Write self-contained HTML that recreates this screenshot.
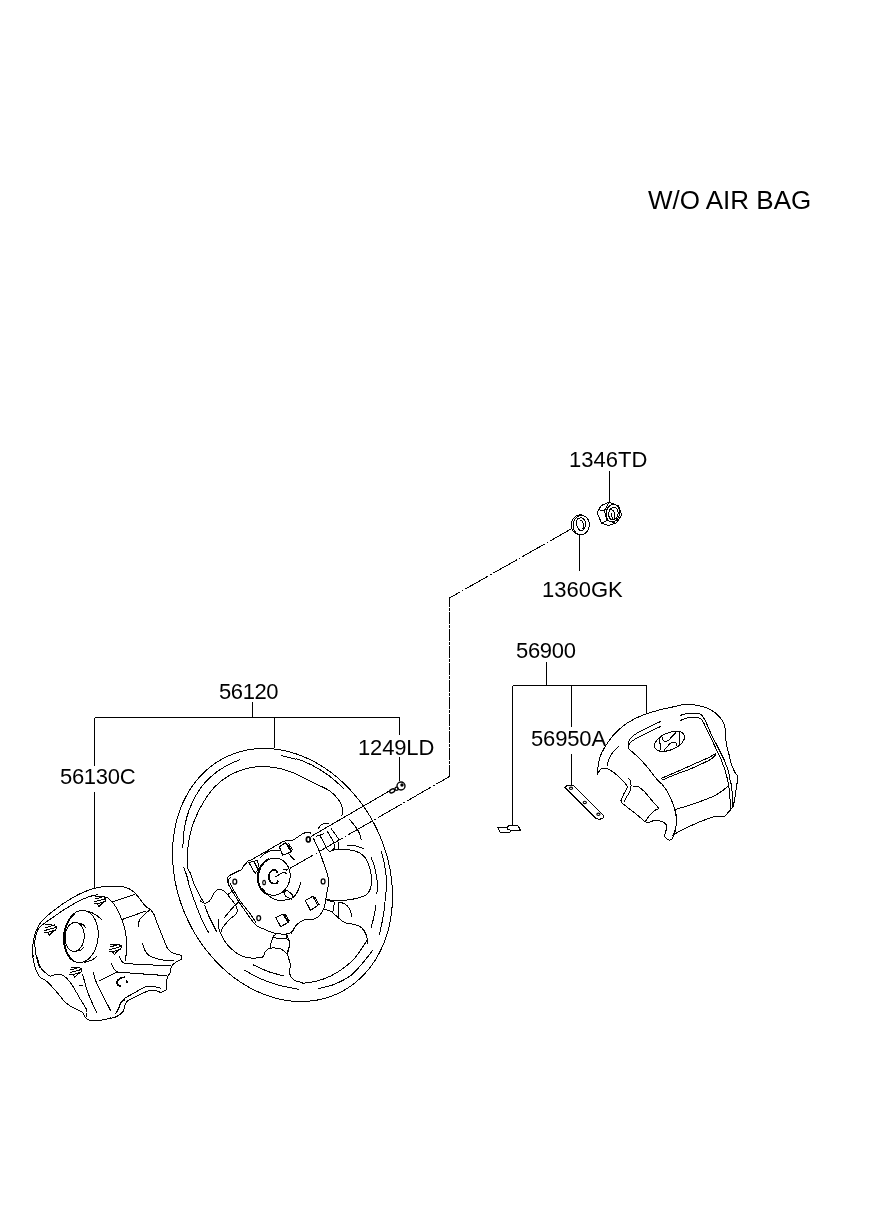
<!DOCTYPE html>
<html><head><meta charset="utf-8"><title>Steering wheel</title>
<style>
html,body{margin:0;padding:0;background:#fff;}
body{width:886px;height:1211px;position:relative;overflow:hidden;font-family:"Liberation Sans",sans-serif;color:#000;}
svg{position:absolute;left:0;top:0;}
.t{position:absolute;white-space:nowrap;line-height:1;color:#000;will-change:transform;}
</style></head><body>
<svg width="886" height="1211" viewBox="0 0 886 1211" shape-rendering="crispEdges" fill="none" stroke="#000" stroke-width="1">
<path d="M94.5 717.5 L399.5 717.5"/>
<path d="M252.5 702.0 L252.5 717.5"/>
<path d="M274.5 717.5 L274.5 748.0"/>
<path d="M94.5 717.5 L94.5 766.0"/>
<path d="M94.5 792.0 L94.5 888.5"/>
<path d="M399.5 717.5 L399.5 734.5"/>
<path d="M399.5 757.0 L399.5 781.0"/>
<path d="M512.5 685.5 L646.5 685.5"/>
<path d="M546.5 662.0 L546.5 685.5"/>
<path d="M512.5 685.5 L512.5 825.0"/>
<path d="M571.5 685.5 L571.5 727.0"/>
<path d="M571.5 754.0 L571.5 785.0"/>
<path d="M646.5 685.5 L646.5 713.5"/>
<path d="M609.5 471.0 L609.5 502.0"/>
<path d="M579.5 534.0 L579.5 571.0"/>
<path d="M227.0 756.6 C228.4 756.0 232.6 754.1 235.5 753.1 C238.4 752.1 241.4 751.3 244.4 750.6 C247.4 749.9 250.4 749.4 253.5 749.1 C256.6 748.7 259.7 748.5 262.9 748.5 C266.0 748.4 269.2 748.6 272.4 748.8 C275.5 749.1 278.7 749.6 281.9 750.2 C285.1 750.8 288.4 751.5 291.5 752.4 C294.7 753.4 297.9 754.4 301.1 755.7 C304.2 756.9 307.3 758.3 310.4 759.8 C313.5 761.3 316.6 763.0 319.6 764.8 C322.6 766.6 325.6 768.5 328.5 770.6 C331.4 772.7 334.2 774.9 337.0 777.2 C339.8 779.6 342.5 782.0 345.1 784.6 C347.8 787.2 350.3 789.9 352.8 792.7 C355.2 795.5 357.6 798.4 359.9 801.4 C362.2 804.4 364.3 807.4 366.4 810.6 C368.5 813.8 370.5 817.0 372.3 820.3 C374.1 823.7 375.9 827.1 377.5 830.5 C379.1 833.9 380.6 837.5 382.0 841.0 C383.3 844.5 384.6 848.1 385.7 851.7 C386.8 855.4 387.8 859.0 388.6 862.7 C389.5 866.3 390.2 870.0 390.7 873.7 C391.3 877.4 391.7 881.1 392.0 884.7 C392.3 888.4 392.5 892.1 392.5 895.7 C392.5 899.3 392.4 902.9 392.1 906.5 C391.9 910.0 391.5 913.6 390.9 917.0 C390.4 920.5 389.7 923.9 388.9 927.3 C388.1 930.6 387.1 933.9 386.1 937.1 C385.0 940.3 383.8 943.5 382.4 946.5 C381.1 949.5 379.6 952.5 378.0 955.3 C376.5 958.2 374.8 960.9 372.9 963.5 C371.1 966.2 369.2 968.7 367.1 971.1 C365.1 973.5 362.9 975.8 360.7 977.9 C358.4 980.0 356.1 982.1 353.6 983.9 C351.2 985.8 348.7 987.5 346.1 989.1 C343.4 990.7 340.7 992.2 338.0 993.4 C335.2 994.7 332.4 995.9 329.5 996.9 C326.6 997.9 323.6 998.7 320.6 999.4 C317.6 1000.1 314.6 1000.6 311.5 1000.9 C308.4 1001.3 305.3 1001.5 302.1 1001.5 C299.0 1001.6 295.8 1001.4 292.6 1001.2 C289.5 1000.9 286.3 1000.4 283.1 999.8 C279.9 999.2 276.6 998.5 273.5 997.6 C270.3 996.6 267.1 995.6 263.9 994.3 C260.8 993.1 257.7 991.7 254.6 990.2 C251.5 988.7 248.4 987.0 245.4 985.2 C242.4 983.4 239.4 981.5 236.5 979.4 C233.6 977.3 230.8 975.1 228.0 972.8 C225.2 970.4 222.5 968.0 219.9 965.4 C217.2 962.8 214.7 960.1 212.2 957.3 C209.8 954.5 207.4 951.6 205.1 948.6 C202.8 945.6 200.7 942.6 198.6 939.4 C196.5 936.2 194.5 933.0 192.7 929.7 C190.9 926.3 189.1 922.9 187.5 919.5 C185.9 916.1 184.4 912.5 183.0 909.0 C181.7 905.5 180.4 901.9 179.3 898.3 C178.2 894.6 177.2 891.0 176.4 887.3 C175.5 883.7 174.8 880.0 174.3 876.3 C173.7 872.6 173.3 868.9 173.0 865.3 C172.7 861.6 172.5 857.9 172.5 854.3 C172.5 850.7 172.6 847.1 172.9 843.5 C173.1 840.0 173.5 836.4 174.1 833.0 C174.6 829.5 175.3 826.1 176.1 822.7 C176.9 819.4 177.9 816.1 178.9 812.9 C180.0 809.7 181.2 806.5 182.6 803.5 C183.9 800.5 185.4 797.5 187.0 794.7 C188.5 791.8 190.2 789.1 192.1 786.5 C193.9 783.8 195.8 781.3 197.9 778.9 C199.9 776.5 202.1 774.2 204.3 772.1 C206.6 770.0 208.9 767.9 211.4 766.1 C213.8 764.2 216.3 762.5 218.9 760.9 C221.6 759.3 225.7 757.3 227.0 756.6"/>
<path d="M240.4 759.5 C238.3 760.4 232.1 762.7 227.7 765.1 C223.3 767.5 218.4 770.4 214.2 773.9 C209.9 777.3 205.8 781.2 202.3 785.7 C198.8 790.2 195.6 795.9 193.0 800.9 C190.5 806.0 188.6 810.8 187.1 816.2 C185.5 821.5 184.4 827.7 183.7 833.1 C183.0 838.5 183.0 845.8 182.9 848.3"/>
<path d="M183.7 867.0 C184.3 868.6 186.1 873.4 187.1 876.8 C188.1 880.1 188.2 882.4 189.6 886.9 C191.0 891.4 193.4 898.2 195.6 903.9 C197.7 909.5 200.1 915.8 202.3 920.8 C204.6 925.7 208.0 931.4 209.1 933.5"/>
<path d="M281.0 755.6 C283.4 756.1 292.7 758.4 295.4 759.0 C298.1 759.5 294.4 757.9 297.2 759.0 C300.1 760.0 307.4 762.8 312.5 765.4 C317.6 768.0 323.5 771.7 327.7 774.7 C331.9 777.7 335.2 780.8 337.9 783.2 C340.6 785.6 342.8 788.1 343.8 789.1"/>
<path d="M341.5 815.7 C341.7 815.2 342.6 814.0 342.7 812.6 C342.7 811.1 342.5 808.8 342.0 806.9 C341.5 805.0 340.7 803.2 339.5 801.3 C338.3 799.4 336.9 797.5 335.0 795.6 C333.1 793.8 332.3 792.4 328.2 790.0 C324.2 787.6 316.5 784.3 310.8 781.5 C305.1 778.6 299.5 775.3 293.9 773.0 C288.2 770.8 282.9 769.0 276.9 767.9 C271.0 766.9 263.9 766.5 258.2 766.7 C252.5 767.0 248.0 768.0 243.0 769.6 C237.9 771.2 232.5 773.4 227.7 776.4 C222.9 779.4 218.3 783.0 214.2 787.4 C210.1 791.8 206.4 797.3 203.2 802.6 C199.9 808.0 197.0 813.9 194.7 819.6 C192.4 825.2 190.8 830.9 189.6 836.5 C188.4 842.1 187.7 848.1 187.4 853.4 C187.1 858.8 187.4 865.3 187.9 868.7 C188.4 872.0 189.5 870.9 190.5 873.4 C191.5 875.9 192.3 879.9 193.9 883.5 C195.4 887.2 198.0 892.1 199.8 895.4 C201.5 898.7 203.6 902.2 204.4 903.5"/>
<path d="M389.2 791.1 L311.3 836.3"/>
<path d="M313.5 838.5 C314.5 840.6 317.5 846.8 319.2 850.9 C320.9 855.1 322.3 859.2 323.7 863.4 C325.1 867.5 326.8 872.4 327.7 875.8 C328.5 879.2 328.8 881.4 328.8 883.7 C328.7 886.0 327.8 887.5 327.4 889.5 C327.0 891.4 326.9 892.4 326.4 895.4 C325.9 898.4 325.4 904.0 324.3 907.2 C323.3 910.5 321.8 912.9 320.1 914.9 C318.4 916.8 316.9 918.2 314.2 919.1 C311.5 919.9 307.0 919.0 304.0 919.9 C301.1 920.9 298.5 922.8 296.4 925.0 C294.3 927.3 292.2 932.1 291.3 933.5"/>
<path d="M316.4 836.3 L324.3 833.5"/>
<path d="M319.8 835.1 L326.5 847.6"/>
<path d="M327.1 831.2 C327.7 832.2 329.9 835.4 331.0 837.4 C332.2 839.4 333.4 842.1 333.9 843.0"/>
<path d="M331.0 828.4 C331.8 829.4 334.2 832.7 335.6 834.6 C336.9 836.5 338.4 838.8 338.9 839.7"/>
<path d="M326.0 848.1 C326.6 848.7 328.6 851.4 329.9 851.5 C331.2 851.6 333.0 849.9 333.9 848.7 C334.7 847.5 334.8 844.9 335.0 844.2"/>
<path d="M338.9 841.9 L338.9 848.7"/>
<path d="M318.1 828.9 C318.5 828.3 319.8 825.9 320.9 825.0 C322.0 824.0 323.5 823.6 324.8 823.3 C326.1 823.0 328.1 823.3 328.8 823.3"/>
<path d="M303.4 833.5 C304.0 833.3 305.5 832.3 306.8 832.3 C308.1 832.3 310.5 833.3 311.3 833.5"/>
<path d="M349.1 819.1 C349.9 820.1 352.6 822.9 354.2 825.0 C355.8 827.1 357.5 829.2 358.7 831.8 C359.9 834.3 361.0 838.8 361.5 840.2"/>
<path d="M346.8 845.3 C348.3 845.4 352.5 845.3 355.3 845.9 C358.1 846.4 362.4 848.2 363.8 848.7"/>
<path d="M331.6 850.4 C332.7 850.2 335.7 849.4 338.4 849.3 C341.0 849.1 344.4 849.2 347.4 849.6 C350.4 850.0 353.8 850.5 356.4 851.5 C359.1 852.5 361.3 853.7 363.2 855.5 C365.1 857.2 366.5 859.6 367.7 862.2 C368.9 864.9 369.9 868.3 370.5 871.3 C371.2 874.3 371.7 877.4 371.7 880.3 C371.6 883.2 371.2 886.2 370.4 888.6 C369.5 891.0 368.7 893.0 366.7 894.5 C364.6 896.1 361.6 897.0 358.2 897.9 C354.8 898.9 350.3 899.7 346.3 900.1 C342.4 900.6 337.7 900.6 334.5 900.5 C331.2 900.4 328.1 899.8 326.9 899.6"/>
<path d="M381.3 851.5 C381.7 853.3 383.3 858.6 384.1 862.2 C384.8 865.9 385.3 869.8 385.8 873.5 C386.2 877.3 386.7 881.2 386.7 884.8 C386.7 888.5 386.1 890.5 385.6 895.4 C385.1 900.3 384.6 907.4 383.6 914.0 C382.5 920.6 380.1 931.7 379.3 935.2"/>
<path d="M371.1 857.5 C371.7 859.0 373.6 863.3 374.5 866.7 C375.4 870.2 376.2 874.2 376.7 878.0 C377.3 881.9 377.8 887.4 377.7 890.0 C377.5 892.6 376.2 893.1 376.0 893.7"/>
<path d="M376.0 905.6 C375.6 907.5 374.6 913.6 373.8 917.4 C372.9 921.2 371.4 926.6 370.9 928.4"/>
<path d="M227.4 882.9 C227.4 882.2 226.8 880.2 227.2 878.9 C227.6 877.7 227.2 877.1 229.7 875.5 C232.2 873.9 240.0 870.4 242.1 869.3"/>
<path d="M242.1 869.3 L243.2 866.5 L248.3 860.9 L251.7 859.7 L283.8 841.1 L292.9 840.2 L302.5 833.8"/>
<path d="M302.5 833.8 C303.2 833.5 305.5 832.4 307.0 832.3 C308.5 832.2 310.7 833.1 311.5 833.2"/>
<path d="M228.8 882.9 C228.7 882.4 228.2 880.7 228.5 879.7 C228.8 878.8 230.2 877.6 230.6 877.2"/>
<path d="M227.7 882.6 C228.1 883.5 228.6 885.0 230.5 888.2 C232.4 891.4 235.0 895.9 238.9 901.8 C242.9 907.6 250.1 918.7 254.2 923.2 C258.2 927.7 260.0 927.2 263.2 928.8 C266.4 930.4 270.7 932.0 273.4 932.8 C276.0 933.6 276.7 933.7 279.0 933.9 C281.3 934.1 284.7 934.4 286.9 933.9 C289.2 933.5 291.0 932.5 292.6 931.1 C294.1 929.7 294.7 927.0 295.9 925.5 C297.2 924.0 299.3 922.6 300.0 922.1"/>
<path d="M229.9 882.6 C230.6 883.9 232.1 887.3 233.9 890.5 C235.6 893.7 238.0 898.0 240.6 901.8 C243.3 905.5 247.1 909.6 249.7 913.0 C252.2 916.5 254.8 921.0 255.9 922.6"/>
<path d="M277.5 858.3 C277.9 858.4 279.1 858.7 279.9 859.0 C280.7 859.3 281.4 859.6 282.1 860.1 C282.9 860.5 283.6 861.0 284.2 861.6 C284.8 862.1 285.5 862.8 286.0 863.4 C286.6 864.1 287.1 864.9 287.5 865.6 C288.0 866.4 288.4 867.3 288.7 868.1 C289.1 869.0 289.4 869.9 289.6 870.8 C289.8 871.7 290.0 872.7 290.1 873.6 C290.1 874.6 290.2 875.5 290.1 876.5 C290.1 877.5 290.0 878.5 289.8 879.4 C289.6 880.4 289.4 881.3 289.1 882.2 C288.8 883.2 288.5 884.1 288.1 884.9 C287.6 885.8 287.2 886.7 286.7 887.4 C286.1 888.2 285.6 889.0 284.9 889.7 C284.3 890.4 283.7 891.0 283.0 891.6 C282.3 892.2 281.5 892.7 280.8 893.1 C280.0 893.6 279.2 894.0 278.4 894.3 C277.6 894.6 276.8 894.8 276.0 895.0 C275.2 895.1 274.3 895.2 273.5 895.2 C272.7 895.2 271.8 895.2 271.0 895.0 C270.2 894.9 269.4 894.6 268.6 894.4 C267.9 894.1 267.1 893.7 266.4 893.3 C265.7 892.8 265.0 892.3 264.3 891.8 C263.7 891.2 263.0 890.6 262.5 889.9 C261.9 889.2 261.4 888.5 261.0 887.7 C260.5 886.9 260.1 886.1 259.8 885.2 C259.4 884.4 259.1 883.5 258.9 882.6 C258.7 881.6 258.5 880.7 258.5 879.7 C258.4 878.8 258.3 877.8 258.4 876.8 C258.4 875.9 258.5 874.9 258.7 873.9 C258.9 873.0 259.1 872.0 259.4 871.1 C259.7 870.2 260.0 869.3 260.5 868.4 C260.9 867.5 261.3 866.7 261.9 865.9 C262.4 865.1 263.0 864.4 263.6 863.7 C264.2 863.0 264.8 862.3 265.5 861.8 C266.2 861.2 267.0 860.7 267.7 860.2 C268.5 859.8 269.3 859.4 270.1 859.1 C270.9 858.8 271.7 858.5 272.5 858.4 C273.3 858.2 274.2 858.1 275.0 858.1 C275.8 858.1 277.1 858.3 277.5 858.3"/>
<path d="M267.8 894.8 C267.5 894.6 266.6 894.2 266.0 893.9 C265.4 893.6 264.8 893.2 264.3 892.8 C263.7 892.3 263.2 891.9 262.7 891.4 C262.2 890.9 261.7 890.4 261.3 889.8 C260.8 889.2 260.4 888.6 260.0 888.0 C259.7 887.4 259.3 886.7 259.0 886.0 C258.7 885.4 258.5 884.7 258.2 883.9 C258.0 883.2 257.8 882.5 257.7 881.7 C257.5 881.0 257.4 880.2 257.4 879.4 C257.3 878.7 257.3 877.9 257.3 877.1 C257.3 876.3 257.4 875.6 257.5 874.8 C257.6 874.0 257.7 873.2 257.9 872.5 C258.1 871.7 258.3 871.0 258.6 870.2 C258.8 869.5 259.1 868.8 259.4 868.1 C259.8 867.4 260.2 866.7 260.6 866.1 C261.0 865.4 261.4 864.8 261.9 864.2 C262.3 863.6 262.8 863.1 263.4 862.5 C263.9 862.0 264.4 861.5 265.0 861.1 C265.6 860.6 266.2 860.2 266.8 859.8 C267.4 859.5 268.4 859.0 268.7 858.9"/>
<path d="M259.6 858.6 C260.4 857.8 262.7 854.8 264.7 853.5 C266.6 852.2 268.9 851.3 271.4 850.7 C274.0 850.1 278.5 850.2 279.9 850.1"/>
<path d="M300.8 881.7 C300.4 883.1 299.8 887.0 298.5 889.7 C297.2 892.3 295.5 895.8 292.9 897.6 C290.2 899.3 285.5 900.0 282.7 900.4 C279.9 900.7 278.4 900.7 275.9 899.8 C273.5 899.0 270.3 897.2 268.0 895.3 C265.8 893.4 263.3 889.7 262.4 888.5"/>
<path d="M279.3 846.8 L285.5 842.8 L291.2 851.8 L282.7 855.2Z"/>
<path d="M287.2 843.9 L291.7 850.7"/>
<path d="M288.4 843.1 L292.7 849.9"/>
<path d="M288.4 853.5 L294.6 860.3"/>
<path d="M248.9 862.6 L257.3 860.3 L259.2 868.2 L255.1 873.3Z"/>
<path d="M253.9 861.4 L257.9 869.3"/>
<path d="M283.8 891.9 L287.2 890.2 L292.9 895.3 L291.7 899.2 L285.5 896.4Z"/>
<path d="M282.7 869.3 L287.2 869.6"/>
<path d="M282.7 872.7 L287.2 873.2"/>
<path d="M275.6 917.6 L283.0 914.0 L288.0 922.6 L280.7 926.6Z"/>
<path d="M284.1 914.7 L288.6 921.9"/>
<path d="M285.2 914.2 L289.4 921.3"/>
<path d="M305.4 900.5 L312.8 896.2 L317.9 905.6 L310.4 910.3Z"/>
<path d="M314.5 896.7 L319.3 905.0"/>
<path d="M200.0 900.6 C200.6 901.0 202.1 902.6 203.4 902.9 C204.7 903.2 206.6 903.1 207.9 902.3 C209.2 901.6 210.3 900.0 211.3 898.4 C212.3 896.8 213.1 894.1 214.1 892.7 C215.1 891.3 216.3 890.4 217.5 889.9 C218.7 889.4 220.0 889.4 221.4 889.9 C222.9 890.4 224.5 891.3 226.0 892.7 C227.5 894.1 229.0 896.5 230.5 898.4 C232.0 900.3 234.0 902.5 235.0 904.0 C236.0 905.5 236.4 905.9 236.7 907.4 C237.0 908.9 237.9 911.0 236.7 913.0 C235.5 915.1 231.7 917.4 229.3 919.8 C227.0 922.3 224.0 925.7 222.6 927.7 C221.2 929.8 221.2 931.5 220.9 932.2"/>
<path d="M228.2 894.4 L232.7 890.5"/>
<path d="M238.9 901.8 L233.9 906.3 L224.3 917.6"/>
<path d="M218.1 919.3 C218.2 920.7 218.2 925.3 218.6 927.7 C219.1 930.2 220.5 932.9 220.9 933.9"/>
<path d="M204.5 905.1 C205.3 907.0 207.0 911.9 209.0 916.4 C211.1 920.9 215.6 929.6 216.9 932.2"/>
<path d="M220.9 933.9 C221.5 935.2 223.2 938.9 224.8 941.3 C226.4 943.6 228.2 945.9 230.5 948.0 C232.7 950.2 235.6 952.6 238.4 954.2 C241.2 955.8 244.4 957.0 247.4 957.6 C250.4 958.3 253.9 958.1 256.4 958.0 C259.0 957.9 261.1 958.2 262.6 957.1 C264.1 956.0 264.4 952.8 265.5 951.4 C266.5 950.0 267.3 949.2 268.8 948.6 C270.4 948.0 272.4 947.9 274.5 948.0 C276.6 948.1 279.2 948.2 281.3 949.2 C283.3 950.1 285.6 951.9 286.9 953.7 C288.2 955.5 288.8 958.9 289.2 960.0"/>
<path d="M275.6 934.5 C275.2 935.0 273.7 935.2 272.8 937.3 C271.9 939.5 270.4 945.8 270.0 947.5"/>
<path d="M272.8 937.9 L286.3 938.4"/>
<path d="M286.9 934.5 C286.8 935.2 285.9 937.3 286.3 938.4 C286.8 939.6 289.3 939.9 289.7 941.3 C290.2 942.7 289.6 944.8 289.2 946.9 C288.7 949.0 287.3 952.6 286.9 953.7"/>
<path d="M287.0 935.2 C287.4 936.4 289.4 939.6 289.5 942.8 C289.6 946.0 287.7 951.0 287.8 954.6 C288.0 958.3 290.1 961.7 290.4 964.8 C290.6 967.9 288.9 970.7 289.5 973.3 C290.1 975.8 291.6 978.5 293.7 980.0 C295.9 981.6 300.5 982.1 302.2 982.6 C303.9 983.1 301.5 983.4 304.0 983.1 C306.6 982.8 313.0 982.1 317.6 980.9 C322.1 979.7 326.6 978.1 331.1 975.8 C335.6 973.5 340.7 970.3 344.6 967.3 C348.6 964.4 351.7 961.6 354.8 958.0 C357.9 954.5 361.2 949.3 363.3 946.2 C365.4 943.1 366.8 940.5 367.5 939.4"/>
<path d="M367.5 943.6 C367.4 942.4 367.6 938.7 366.7 936.0 C365.7 933.3 363.8 929.5 361.6 927.6 C359.3 925.6 355.9 925.0 353.1 924.2 C350.3 923.3 347.2 923.6 344.6 922.5 C342.1 921.4 340.1 919.2 337.9 917.4 C335.6 915.6 333.4 912.8 331.1 911.5 C328.8 910.1 325.5 909.6 324.3 909.3"/>
<path d="M325.2 899.6 L334.5 902.2"/>
<path d="M334.5 902.2 L332.8 912.3"/>
<path d="M338.7 902.2 L338.2 916.6"/>
<path d="M338.7 902.2 C339.7 902.4 342.8 902.7 344.6 903.9 C346.5 905.0 348.5 906.8 349.7 908.9 C350.9 911.1 351.6 915.3 351.9 916.6"/>
<path d="M253.1 964.8 C255.6 965.9 263.3 969.7 268.3 971.6 C273.4 973.4 281.0 975.1 283.6 975.8"/>
<path d="M243.8 969.9 C246.8 971.4 255.8 976.7 261.6 979.2 C267.4 981.7 272.3 983.4 278.5 985.1 C284.7 986.8 295.4 988.6 298.8 989.3"/>
<path d="M318.4 988.5 C321.1 987.8 329.0 986.5 334.5 984.3 C340.0 982.0 346.6 978.6 351.4 975.0 C356.2 971.3 359.7 966.4 363.3 962.3 C366.8 958.2 371.0 952.4 372.6 950.4"/>
<path d="M582.5 515.5 C582.6 515.5 583.0 515.6 583.2 515.6 C583.4 515.7 583.7 515.8 583.9 515.8 C584.1 515.9 584.3 516.0 584.5 516.1 C584.8 516.2 585.0 516.3 585.2 516.5 C585.4 516.6 585.6 516.7 585.8 516.9 C586.0 517.0 586.2 517.2 586.4 517.3 C586.5 517.5 586.7 517.7 586.9 517.9 C587.0 518.1 587.2 518.3 587.4 518.5 C587.5 518.7 587.7 518.9 587.8 519.1 C587.9 519.3 588.1 519.5 588.2 519.8 C588.3 520.0 588.4 520.3 588.5 520.5 C588.6 520.7 588.7 521.0 588.8 521.3 C588.9 521.5 589.0 521.8 589.0 522.0 C589.1 522.3 589.1 522.6 589.2 522.8 C589.2 523.1 589.3 523.4 589.3 523.7 C589.3 523.9 589.3 524.2 589.3 524.5 C589.3 524.8 589.3 525.1 589.3 525.3 C589.3 525.6 589.2 525.9 589.2 526.2 C589.2 526.5 589.1 526.7 589.1 527.0 C589.0 527.3 588.9 527.6 588.9 527.8 C588.8 528.1 588.7 528.4 588.6 528.6 C588.5 528.9 588.4 529.1 588.3 529.4 C588.1 529.6 588.0 529.9 587.9 530.1 C587.8 530.4 587.6 530.6 587.5 530.8 C587.3 531.0 587.2 531.3 587.0 531.5 C586.8 531.7 586.6 531.9 586.5 532.1 C586.3 532.3 586.1 532.4 585.9 532.6 C585.7 532.8 585.5 532.9 585.3 533.1 C585.1 533.3 584.9 533.4 584.7 533.5 C584.5 533.7 584.2 533.8 584.0 533.9 C583.8 534.0 583.6 534.1 583.3 534.2 C583.1 534.3 582.9 534.4 582.7 534.4 C582.4 534.5 582.2 534.5 581.9 534.6 C581.7 534.6 581.5 534.6 581.2 534.7 C581.0 534.7 580.8 534.7 580.5 534.7 C580.3 534.7 580.1 534.6 579.8 534.6 C579.6 534.6 579.4 534.5 579.1 534.5 C578.9 534.4 578.7 534.3 578.4 534.3 C578.2 534.2 578.0 534.1 577.8 534.0 C577.6 533.9 577.4 533.8 577.1 533.6 C576.9 533.5 576.7 533.4 576.5 533.2 C576.3 533.1 576.2 532.9 576.0 532.8 C575.8 532.6 575.6 532.4 575.4 532.2 C575.3 532.0 575.1 531.8 575.0 531.6 C574.8 531.4 574.7 531.2 574.5 531.0 C574.4 530.8 574.3 530.6 574.1 530.3 C574.0 530.1 573.9 529.9 573.8 529.6 C573.7 529.4 573.6 529.1 573.5 528.9 C573.4 528.6 573.4 528.3 573.3 528.1 C573.2 527.8 573.2 527.5 573.1 527.3 C573.1 527.0 573.1 526.7 573.0 526.4 C573.0 526.2 573.0 525.9 573.0 525.6 C573.0 525.3 573.0 525.0 573.0 524.8 C573.0 524.5 573.1 524.2 573.1 523.9 C573.2 523.6 573.2 523.4 573.3 523.1 C573.3 522.8 573.4 522.5 573.5 522.3 C573.6 522.0 573.6 521.7 573.7 521.5 C573.8 521.2 573.9 521.0 574.1 520.7 C574.2 520.5 574.3 520.2 574.4 520.0 C574.6 519.8 574.7 519.5 574.9 519.3 C575.0 519.1 575.2 518.9 575.3 518.6 C575.5 518.4 575.7 518.2 575.9 518.0 C576.0 517.9 576.2 517.7 576.4 517.5 C576.6 517.3 576.8 517.2 577.0 517.0 C577.2 516.9 577.4 516.7 577.6 516.6 C577.9 516.4 578.1 516.3 578.3 516.2 C578.5 516.1 578.8 516.0 579.0 515.9 C579.2 515.8 579.4 515.7 579.7 515.7 C579.9 515.6 580.1 515.6 580.4 515.5 C580.6 515.5 580.9 515.5 581.1 515.4 C581.3 515.4 581.6 515.4 581.8 515.4 C582.0 515.4 582.4 515.5 582.5 515.5"/>
<path d="M580.9 534.3 C580.7 534.3 580.0 534.4 579.6 534.4 C579.1 534.4 578.7 534.4 578.2 534.3 C577.8 534.2 577.4 534.1 577.0 533.9 C576.6 533.8 576.2 533.6 575.8 533.4 C575.4 533.1 575.0 532.9 574.7 532.6 C574.3 532.3 574.0 532.0 573.7 531.6 C573.4 531.3 573.1 530.9 572.9 530.5 C572.6 530.1 572.4 529.7 572.2 529.2 C572.0 528.8 571.8 528.3 571.7 527.9 C571.6 527.4 571.5 526.9 571.4 526.4 C571.3 525.9 571.3 525.4 571.3 524.9 C571.3 524.4 571.4 523.9 571.4 523.4 C571.5 522.9 571.6 522.4 571.7 522.0 C571.9 521.5 572.0 521.0 572.2 520.6 C572.4 520.1 572.7 519.7 572.9 519.2 C573.2 518.8 573.5 518.4 573.8 518.1 C574.1 517.7 574.4 517.4 574.7 517.0 C575.1 516.7 575.5 516.4 575.9 516.2 C576.2 515.9 576.6 515.7 577.1 515.5 C577.5 515.3 577.9 515.2 578.3 515.1 C578.8 515.0 579.2 514.9 579.7 514.9 C580.1 514.8 580.5 514.8 581.0 514.9 C581.4 514.9 581.8 515.0 582.3 515.1 C582.7 515.2 583.3 515.5 583.5 515.5"/>
<path d="M578.2 518.3 C577.9 518.9 576.4 520.7 576.3 522.1 C576.1 523.5 576.7 525.3 577.4 526.7 C578.0 528.2 579.2 530.1 580.3 530.6 C581.4 531.0 583.0 530.5 583.9 529.5 C584.7 528.6 585.3 526.2 585.4 524.6 C585.5 523.1 585.3 521.5 584.7 520.4 C584.2 519.3 583.3 518.4 582.2 518.0 C581.1 517.7 578.9 518.2 578.2 518.3"/>
<path d="M579.9 519.7 C580.4 520.1 582.0 520.8 582.7 521.9 C583.3 523.0 583.9 524.9 583.9 526.2 C583.9 527.4 582.9 528.7 582.7 529.2"/>
<path d="M597.2 512.8 L601.1 505.6 L609.1 502.2 L618.4 505.8 L621.6 515.1 L616.3 522.9 L608.9 525.5 L601.5 523.1Z"/>
<path d="M614.3 504.6 C614.4 504.6 614.7 504.7 614.9 504.7 C615.1 504.8 615.3 504.9 615.5 504.9 C615.7 505.0 615.8 505.1 616.0 505.2 C616.2 505.3 616.4 505.4 616.5 505.5 C616.7 505.7 616.9 505.8 617.0 505.9 C617.2 506.1 617.3 506.2 617.5 506.4 C617.6 506.5 617.8 506.7 617.9 506.8 C618.0 507.0 618.1 507.2 618.3 507.4 C618.4 507.6 618.5 507.8 618.6 508.0 C618.7 508.2 618.8 508.4 618.9 508.6 C619.0 508.8 619.1 509.0 619.2 509.2 C619.2 509.5 619.3 509.7 619.4 509.9 C619.4 510.2 619.5 510.4 619.5 510.6 C619.5 510.9 619.6 511.1 619.6 511.4 C619.6 511.6 619.6 511.9 619.7 512.1 C619.7 512.4 619.7 512.6 619.7 512.9 C619.6 513.1 619.6 513.4 619.6 513.6 C619.6 513.9 619.5 514.1 619.5 514.4 C619.4 514.6 619.4 514.9 619.3 515.1 C619.3 515.4 619.2 515.6 619.1 515.8 C619.1 516.1 619.0 516.3 618.9 516.6 C618.8 516.8 618.7 517.0 618.6 517.2 C618.5 517.5 618.3 517.7 618.2 517.9 C618.1 518.1 618.0 518.3 617.8 518.5 C617.7 518.7 617.6 518.9 617.4 519.1 C617.3 519.3 617.1 519.5 617.0 519.6 C616.8 519.8 616.6 520.0 616.5 520.1 C616.3 520.3 616.1 520.4 616.0 520.5 C615.8 520.7 615.6 520.8 615.4 520.9 C615.2 521.0 615.0 521.1 614.8 521.2 C614.7 521.3 614.5 521.4 614.3 521.5 C614.1 521.6 613.9 521.6 613.7 521.7 C613.5 521.7 613.3 521.8 613.1 521.8 C612.9 521.8 612.7 521.9 612.5 521.9 C612.3 521.9 612.1 521.9 611.9 521.9 C611.7 521.8 611.5 521.8 611.3 521.8 C611.1 521.8 610.9 521.7 610.7 521.7 C610.5 521.6 610.4 521.5 610.2 521.5 C610.0 521.4 609.8 521.3 609.6 521.2 C609.5 521.1 609.3 521.0 609.1 520.9 C609.0 520.7 608.8 520.6 608.6 520.5 C608.5 520.3 608.3 520.2 608.2 520.0 C608.0 519.9 607.9 519.7 607.8 519.6 C607.6 519.4 607.5 519.2 607.4 519.0 C607.3 518.8 607.1 518.6 607.0 518.4 C606.9 518.2 606.8 518.0 606.7 517.8 C606.7 517.6 606.6 517.4 606.5 517.2 C606.4 516.9 606.3 516.7 606.3 516.5 C606.2 516.2 606.2 516.0 606.1 515.8 C606.1 515.5 606.1 515.3 606.0 515.0 C606.0 514.8 606.0 514.5 606.0 514.3 C606.0 514.0 606.0 513.8 606.0 513.5 C606.0 513.3 606.0 513.0 606.0 512.8 C606.1 512.5 606.1 512.3 606.2 512.0 C606.2 511.8 606.3 511.5 606.3 511.3 C606.4 511.0 606.4 510.8 606.5 510.6 C606.6 510.3 606.7 510.1 606.8 509.8 C606.9 509.6 607.0 509.4 607.1 509.2 C607.2 508.9 607.3 508.7 607.4 508.5 C607.5 508.3 607.7 508.1 607.8 507.9 C607.9 507.7 608.1 507.5 608.2 507.3 C608.4 507.1 608.5 506.9 608.7 506.8 C608.8 506.6 609.0 506.4 609.2 506.3 C609.3 506.1 609.5 506.0 609.7 505.9 C609.9 505.7 610.1 505.6 610.2 505.5 C610.4 505.4 610.6 505.3 610.8 505.2 C611.0 505.1 611.2 505.0 611.4 504.9 C611.6 504.8 611.8 504.8 612.0 504.7 C612.2 504.7 612.4 504.6 612.6 504.6 C612.8 504.6 613.0 504.5 613.2 504.5 C613.4 504.5 613.6 504.5 613.8 504.5 C613.9 504.6 614.2 504.6 614.3 504.6"/>
<path d="M614.4 507.5 C614.5 507.5 614.7 507.5 614.8 507.5 C614.9 507.6 615.1 507.6 615.2 507.7 C615.3 507.7 615.4 507.8 615.6 507.9 C615.7 507.9 615.8 508.0 615.9 508.1 C616.0 508.2 616.1 508.3 616.3 508.4 C616.4 508.5 616.5 508.6 616.6 508.7 C616.7 508.8 616.8 508.9 616.9 509.0 C616.9 509.2 617.0 509.3 617.1 509.4 C617.2 509.6 617.3 509.7 617.3 509.8 C617.4 510.0 617.5 510.1 617.5 510.3 C617.6 510.4 617.7 510.6 617.7 510.7 C617.8 510.9 617.8 511.1 617.8 511.2 C617.9 511.4 617.9 511.6 617.9 511.7 C618.0 511.9 618.0 512.1 618.0 512.3 C618.0 512.4 618.0 512.6 618.0 512.8 C618.0 513.0 618.0 513.2 618.0 513.3 C618.0 513.5 618.0 513.7 618.0 513.9 C618.0 514.1 617.9 514.3 617.9 514.4 C617.9 514.6 617.8 514.8 617.8 515.0 C617.8 515.1 617.7 515.3 617.7 515.5 C617.6 515.7 617.5 515.8 617.5 516.0 C617.4 516.2 617.3 516.3 617.3 516.5 C617.2 516.7 617.1 516.8 617.0 517.0 C616.9 517.1 616.9 517.3 616.8 517.4 C616.7 517.6 616.6 517.7 616.5 517.8 C616.4 518.0 616.3 518.1 616.1 518.2 C616.0 518.3 615.9 518.4 615.8 518.6 C615.7 518.7 615.6 518.8 615.4 518.9 C615.3 519.0 615.2 519.1 615.1 519.1 C614.9 519.2 614.8 519.3 614.7 519.4 C614.6 519.4 614.4 519.5 614.3 519.6 C614.1 519.6 614.0 519.7 613.9 519.7 C613.7 519.7 613.6 519.8 613.5 519.8 C613.3 519.8 613.2 519.8 613.1 519.8 C612.9 519.8 612.8 519.8 612.6 519.8 C612.5 519.8 612.4 519.8 612.2 519.8 C612.1 519.8 612.0 519.7 611.8 519.7 C611.7 519.7 611.6 519.6 611.5 519.6 C611.3 519.5 611.2 519.4 611.1 519.4 C611.0 519.3 610.9 519.2 610.7 519.1 C610.6 519.1 610.5 519.0 610.4 518.9 C610.3 518.8 610.2 518.7 610.1 518.6 C610.0 518.5 609.9 518.3 609.8 518.2 C609.7 518.1 609.6 518.0 609.6 517.8 C609.5 517.7 609.4 517.6 609.3 517.4 C609.2 517.3 609.2 517.1 609.1 517.0 C609.1 516.8 609.0 516.7 609.0 516.5 C608.9 516.3 608.9 516.2 608.8 516.0 C608.8 515.8 608.7 515.7 608.7 515.5 C608.7 515.3 608.7 515.2 608.7 515.0 C608.6 514.8 608.6 514.6 608.6 514.4 C608.6 514.3 608.6 514.1 608.6 513.9 C608.6 513.7 608.6 513.5 608.7 513.4 C608.7 513.2 608.7 513.0 608.7 512.8 C608.8 512.6 608.8 512.5 608.9 512.3 C608.9 512.1 609.0 511.9 609.0 511.8 C609.1 511.6 609.1 511.4 609.2 511.2 C609.2 511.1 609.3 510.9 609.4 510.8 C609.5 510.6 609.6 510.4 609.6 510.3 C609.7 510.1 609.8 510.0 609.9 509.8 C610.0 509.7 610.1 509.6 610.2 509.4 C610.3 509.3 610.4 509.2 610.5 509.0 C610.6 508.9 610.7 508.8 610.9 508.7 C611.0 508.6 611.1 508.5 611.2 508.4 C611.3 508.3 611.5 508.2 611.6 508.1 C611.7 508.0 611.8 507.9 612.0 507.9 C612.1 507.8 612.2 507.7 612.4 507.7 C612.5 507.6 612.6 507.6 612.8 507.5 C612.9 507.5 613.1 507.5 613.2 507.5 C613.3 507.4 613.5 507.4 613.6 507.4 C613.7 507.4 613.9 507.4 614.0 507.4 C614.2 507.4 614.4 507.4 614.4 507.5"/>
<path d="M610.8 509.0 C611.3 509.4 613.2 510.4 613.8 511.5 C614.3 512.6 614.3 514.1 614.3 515.3 C614.4 516.5 614.2 518.1 614.2 518.7"/>
<path d="M611.8 513.2 L612.1 518.9"/>
<path d="M599.6 510.4 L604.4 510.7 L608.9 502.8"/>
<path d="M604.4 510.7 L607.1 520.6 L602.3 522.6"/>
<path d="M607.1 520.6 L615.4 522.8"/>
<path d="M597.3 774.5 C597.5 773.2 597.7 769.6 598.1 766.6 C598.6 763.6 599.1 759.6 600.2 756.4 C601.2 753.2 602.6 750.8 604.7 747.4 C606.7 744.0 609.4 739.8 612.6 736.1 C615.8 732.4 620.1 728.3 623.9 725.4 C627.6 722.5 631.4 720.6 635.1 718.6 C638.9 716.7 641.7 715.4 646.4 713.8 C651.1 712.2 658.1 710.3 663.4 709.0 C668.6 707.7 675.4 706.5 678.0 705.9 C680.6 705.2 677.2 705.5 679.0 705.2 C680.9 705.0 685.8 704.4 689.2 704.4 C692.6 704.5 696.1 705.1 699.3 705.8 C702.5 706.5 705.6 707.3 708.4 708.6 C711.2 709.9 714.0 711.8 716.3 713.7 C718.5 715.6 720.5 717.8 721.9 719.9 C723.3 722.0 724.1 723.6 724.7 726.1 C725.3 728.7 725.2 732.1 725.5 735.1 C725.8 738.2 725.9 741.2 726.4 744.2 C727.0 747.2 727.8 749.8 728.7 753.2 C729.5 756.6 730.5 761.3 731.5 764.5 C732.5 767.7 734.3 771.1 734.9 772.4"/>
<path d="M734.9 772.4 L737.7 775.8"/>
<path d="M737.7 775.8 C737.7 776.5 737.9 778.8 737.7 780.3 C737.5 781.8 736.6 784.6 736.6 784.8 C736.6 785.0 737.6 780.4 737.5 781.3 C737.4 782.2 736.5 787.5 736.0 790.3 C735.6 793.1 735.4 795.6 734.9 798.2 C734.4 800.9 733.5 804.8 733.2 806.1"/>
<path d="M733.2 806.1 L730.9 809.5 L724.7 816.3 L714.6 816.3"/>
<path d="M714.6 816.3 C711.9 817.3 704.0 820.0 698.2 822.5 C692.5 824.9 684.3 828.8 680.2 830.9 C676.0 833.1 674.5 834.5 673.4 835.5 C672.3 836.4 673.5 836.4 673.5 836.6"/>
<path d="M597.3 774.5 C597.7 773.8 598.7 771.6 599.6 770.5 C600.4 769.5 601.2 768.6 602.4 768.3 C603.6 768.0 605.2 768.1 606.9 768.6 C608.6 769.2 610.7 770.4 612.6 771.7 C614.5 772.9 616.3 774.5 618.2 776.2 C620.1 777.9 622.3 780.0 623.9 781.8 C625.5 783.6 627.2 786.1 627.8 786.9"/>
<path d="M627.8 786.9 L623.9 793.7 L621.0 800.5 L622.2 803.3 L629.5 808.9 L637.4 815.1 L644.7 821.4 L647.6 823.0"/>
<path d="M647.6 823.0 C648.5 822.7 651.3 821.2 653.2 820.8 C655.1 820.4 657.0 820.2 658.8 820.6 C660.7 820.9 663.2 822.1 664.5 823.0 C665.8 824.0 666.6 824.9 666.7 826.4 C666.9 827.9 666.0 830.5 665.6 832.1 C665.2 833.7 664.3 834.9 664.5 836.0 C664.7 837.2 665.8 838.2 666.7 838.8 C667.7 839.5 669.0 840.6 670.1 840.2 C671.3 839.8 672.7 838.1 673.5 836.6 C674.4 835.0 674.7 833.2 675.2 830.9 C675.7 828.7 676.2 825.7 676.3 823.0 C676.5 820.4 676.6 817.4 676.3 815.1 C676.1 812.9 674.9 810.4 674.7 809.5"/>
<path d="M628.4 778.5 C628.8 778.9 630.3 779.5 630.6 781.3 C631.0 783.1 631.2 786.7 630.6 789.2 C630.1 791.6 628.4 793.9 627.2 796.0 C626.1 798.0 624.4 800.7 623.9 801.6"/>
<path d="M632.9 786.7 C633.8 786.7 636.7 786.1 638.5 786.9 C640.4 787.7 642.1 789.4 644.2 791.4 C646.2 793.5 648.6 796.6 650.9 799.3 C653.3 802.1 657.1 806.4 658.3 807.8"/>
<path d="M645.3 821.4 C646.1 820.3 648.3 816.9 649.8 815.1 C651.3 813.4 652.7 811.8 654.3 810.6 C655.9 809.5 658.6 808.8 659.4 808.4"/>
<path d="M606.9 766.0 C607.3 764.8 608.2 761.0 609.2 758.7 C610.2 756.3 611.5 754.0 613.1 751.9 C614.7 749.8 617.8 747.2 618.8 746.3"/>
<path d="M628.4 748.5 C628.3 747.7 627.9 745.1 628.1 743.5 C628.4 741.9 628.9 740.4 630.1 738.9 C631.2 737.4 633.0 735.9 635.1 734.4 C637.3 732.9 638.7 732.1 643.0 729.9 C647.4 727.7 658.1 722.7 661.1 721.2"/>
<path d="M628.9 745.1 C629.3 744.6 629.8 743.0 631.2 741.8 C632.6 740.5 634.9 739.2 637.4 737.8 C639.9 736.4 642.5 735.2 646.4 733.3 C650.4 731.4 658.7 727.4 661.1 726.2"/>
<path d="M628.4 748.5 C629.1 749.2 631.0 750.8 632.9 752.5 C634.8 754.2 637.0 756.0 639.7 758.7 C642.3 761.4 645.9 765.5 648.7 768.8 C651.5 772.2 654.1 776.2 656.6 779.0 C659.0 781.8 661.3 783.2 663.4 785.8 C665.4 788.4 667.4 791.8 669.0 794.8 C670.6 797.8 672.0 801.4 673.0 803.9 C673.9 806.3 674.6 808.6 674.9 809.5"/>
<path d="M680.2 715.4 C681.3 715.1 684.5 713.9 686.9 713.5 C689.4 713.1 692.6 713.0 694.8 713.1 C697.1 713.3 699.0 713.4 700.5 714.3 C702.0 715.1 702.7 716.4 703.9 718.2 C705.0 720.0 706.1 722.5 707.2 725.0 C708.4 727.4 709.3 730.1 710.6 732.9 C711.9 735.7 713.6 738.9 715.1 741.9 C716.7 744.9 718.2 747.9 719.7 750.9 C721.2 754.0 722.9 757.0 724.2 760.0 C725.5 763.0 726.6 766.2 727.6 769.0 C728.5 771.8 729.5 775.6 729.8 776.9 C730.1 778.2 729.0 775.3 729.3 776.8 C729.5 778.3 731.0 782.8 731.5 785.8 C732.0 788.8 732.1 791.4 732.3 794.8 C732.5 798.2 732.6 804.2 732.6 806.1"/>
<path d="M680.2 720.5 C681.3 720.1 684.5 718.6 686.9 718.0 C689.4 717.4 692.6 717.0 694.8 717.1 C697.1 717.2 699.0 717.7 700.5 718.8 C702.0 719.8 702.7 721.3 703.9 723.3 C705.0 725.3 705.9 727.9 707.2 730.6 C708.6 733.4 710.3 736.6 711.8 739.7 C713.3 742.8 714.8 746.1 716.3 749.3 C717.8 752.5 719.5 755.7 720.8 758.8 C722.1 762.0 723.1 764.9 724.2 767.9 C725.2 770.9 726.5 775.2 727.0 776.9 C727.5 778.6 726.7 776.4 727.0 777.9 C727.3 779.4 728.3 783.0 728.7 785.8 C729.1 788.6 729.3 791.8 729.6 794.8 C729.9 797.8 730.2 801.5 730.4 803.9 C730.6 806.2 730.9 808.1 730.9 808.9"/>
<path d="M679.7 715.2 L690.0 713.0"/>
<path d="M680.3 720.3 L690.0 716.9"/>
<path d="M661.1 778.4 C663.6 777.4 671.5 774.1 675.8 772.2 C680.1 770.4 683.2 769.0 686.9 767.3 C690.7 765.6 694.6 763.8 698.2 762.2 C701.8 760.6 705.4 759.2 708.4 757.7 C711.4 756.2 715.0 754.0 716.3 753.2"/>
<path d="M663.4 779.6 C665.6 778.6 672.4 775.7 676.9 773.9 C681.4 772.2 686.2 770.7 690.3 769.0 C694.4 767.3 698.2 765.5 701.6 763.9 C705.0 762.3 708.2 761.0 710.6 759.4 C713.1 757.8 715.3 755.2 716.3 754.3"/>
<path d="M661.1 778.4 L663.4 779.6"/>
<path d="M674.9 809.5 C676.9 808.9 682.5 807.5 686.9 806.1 C691.4 804.7 696.9 802.8 701.6 801.0 C706.3 799.3 711.6 797.2 715.1 795.4 C718.7 793.6 720.9 791.9 723.0 790.3 C725.2 788.7 727.3 786.6 728.1 785.8"/>
<path d="M675.1 810.1 C675.3 811.3 676.0 814.9 676.2 817.4 C676.4 819.9 676.5 822.9 676.2 825.3 C675.9 827.8 675.1 830.3 674.5 832.1 C674.0 833.9 673.1 835.4 672.8 836.0"/>
<path d="M684.2 735.1 C684.3 735.3 684.5 736.0 684.6 736.5 C684.6 737.0 684.6 737.6 684.5 738.1 C684.4 738.7 684.2 739.2 683.9 739.8 C683.7 740.4 683.3 741.0 682.9 741.5 C682.5 742.1 682.1 742.7 681.5 743.3 C681.0 743.9 680.4 744.4 679.8 745.0 C679.1 745.5 678.4 746.0 677.7 746.5 C677.0 747.0 676.2 747.5 675.4 747.9 C674.6 748.4 673.7 748.8 672.9 749.1 C672.0 749.5 671.2 749.8 670.3 750.1 C669.4 750.4 668.5 750.6 667.7 750.8 C666.8 751.0 665.9 751.2 665.1 751.2 C664.3 751.3 663.4 751.4 662.7 751.4 C661.9 751.4 661.1 751.3 660.4 751.2 C659.8 751.1 659.1 750.9 658.5 750.7 C657.9 750.5 657.4 750.2 656.9 749.9 C656.4 749.6 656.0 749.3 655.7 748.9 C655.3 748.5 655.1 748.1 654.9 747.7 C654.7 747.2 654.6 746.7 654.5 746.2 C654.5 745.7 654.5 745.2 654.6 744.6 C654.7 744.1 654.9 743.5 655.2 742.9 C655.4 742.4 655.8 741.8 656.2 741.2 C656.6 740.6 657.0 740.0 657.6 739.4 C658.1 738.9 658.7 738.3 659.3 737.8 C660.0 737.2 660.7 736.7 661.4 736.2 C662.1 735.7 662.9 735.2 663.7 734.8 C664.5 734.4 665.4 733.9 666.2 733.6 C667.1 733.2 667.9 732.9 668.8 732.6 C669.7 732.3 670.6 732.1 671.4 731.9 C672.3 731.7 673.2 731.6 674.0 731.5 C674.8 731.4 675.7 731.4 676.4 731.4 C677.2 731.4 678.0 731.4 678.6 731.5 C679.3 731.7 680.0 731.8 680.6 732.0 C681.2 732.2 681.7 732.5 682.2 732.8 C682.7 733.1 683.1 733.4 683.4 733.8 C683.8 734.2 684.1 734.9 684.2 735.1"/>
<path d="M661.8 735.4 C661.5 735.8 660.2 736.6 659.9 737.9 C659.6 739.1 659.7 742.0 659.8 743.1 C659.9 744.2 660.5 743.3 660.6 744.5 C660.8 745.6 660.7 749.2 660.7 750.1"/>
<path d="M661.9 735.4 C662.0 736.0 661.9 737.7 662.2 738.5 C662.5 739.4 663.1 740.0 663.6 740.5 C664.2 741.0 664.7 741.5 665.4 741.5 C666.2 741.5 667.1 741.2 668.1 740.5 C669.2 739.8 670.3 738.4 671.5 737.1 C672.8 735.8 675.1 733.5 675.8 732.8"/>
<path d="M664.2 751.0 C664.3 750.7 664.3 750.0 664.9 749.2 C665.4 748.4 666.7 747.1 667.6 746.2 C668.5 745.2 669.5 744.0 670.4 743.3 C671.3 742.7 671.9 742.5 672.8 742.4 C673.6 742.3 674.9 742.3 675.5 742.6 C676.1 743.0 676.2 743.8 676.4 744.5 C676.6 745.1 676.6 746.0 676.6 746.3"/>
<path d="M679.4 732.3 L679.4 745.0"/>
<path d="M82.6 1012.2 C81.6 1011.7 79.0 1010.4 76.9 1009.3 C74.8 1008.3 72.2 1007.3 70.1 1005.9 C68.1 1004.6 66.4 1003.3 64.5 1001.4 C62.6 999.6 60.9 997.1 58.9 994.7 C56.8 992.2 54.2 989.0 52.1 986.8 C50.0 984.5 48.3 982.6 46.4 981.1 C44.6 979.6 42.3 979.0 40.8 977.7 C39.3 976.4 38.4 975.3 37.4 973.2 C36.4 971.1 35.4 968.1 34.6 965.3 C33.8 962.5 32.9 957.8 32.7 956.3 C32.4 954.8 33.1 957.8 33.1 956.3 C33.1 954.8 32.5 950.2 32.7 947.2 C32.8 944.2 33.4 941.0 34.0 938.2 C34.6 935.4 35.2 932.9 36.3 930.3 C37.4 927.7 38.9 924.8 40.8 922.4 C42.7 920.0 44.6 918.3 47.6 915.6 C50.6 913.0 55.1 909.3 58.9 906.6 C62.6 903.9 66.4 901.5 70.1 899.3 C73.9 897.0 77.4 894.9 81.4 893.1 C85.5 891.2 90.7 889.4 94.4 888.3 C98.2 887.2 100.5 886.9 104.0 886.5 C107.5 886.1 113.6 886.1 115.3 886.1 C117.0 886.0 112.9 886.0 114.0 886.1 C115.1 886.1 119.5 886.1 121.9 886.5 C124.4 886.9 126.6 887.5 128.7 888.5 C130.8 889.5 132.7 891.0 134.3 892.5 C136.0 894.0 137.4 895.7 138.9 897.6 C140.4 899.5 142.1 902.2 143.4 903.8 C144.7 905.4 145.6 906.2 146.8 907.2 C147.9 908.1 149.6 909.0 150.1 909.4"/>
<path d="M150.1 909.4 C150.7 910.1 152.4 911.2 153.5 913.4 C154.7 915.5 155.6 919.0 156.9 922.4 C158.2 925.8 159.9 929.9 161.4 933.7 C162.9 937.5 164.8 942.3 165.9 945.0 C167.1 947.6 167.1 948.2 168.2 949.5 C169.3 950.8 171.0 952.0 172.7 952.9 C174.4 953.7 176.9 954.1 178.4 954.6 C179.9 955.0 181.2 955.5 181.7 955.7"/>
<path d="M181.7 955.7 L181.7 959.1 L177.2 961.3 L173.8 963.6"/>
<path d="M173.8 963.6 C173.5 964.1 172.2 965.2 171.6 966.4 C171.0 967.6 170.7 970.0 170.5 970.9 C170.3 971.9 170.9 971.0 170.5 972.1 C170.0 973.1 168.3 975.5 167.6 977.2 C167.0 978.9 166.6 980.6 166.5 982.2 C166.4 983.8 166.9 985.5 166.9 986.8 C166.9 988.0 167.0 988.8 166.5 989.6 C166.0 990.3 164.7 990.8 163.7 991.3 C162.7 991.7 161.6 992.3 160.3 992.2 C159.0 992.1 157.5 991.0 155.8 990.7 C154.1 990.4 152.0 990.1 150.1 990.4 C148.3 990.7 146.8 991.4 144.5 992.4 C142.2 993.4 139.0 995.1 136.6 996.4 C134.2 997.6 131.5 998.8 129.8 999.7 C128.1 1000.7 127.3 1001.0 126.4 1002.0 C125.6 1003.0 125.2 1004.5 124.8 1005.9 C124.3 1007.4 124.3 1009.1 123.6 1010.5 C123.0 1011.8 122.0 1012.8 120.8 1013.8 C119.6 1014.9 118.0 1015.9 116.3 1016.7 C114.6 1017.4 111.6 1018.2 110.6 1018.4 C109.7 1018.6 111.9 1017.6 110.8 1017.8 C109.7 1018.0 106.3 1019.3 104.0 1019.7 C101.7 1020.2 99.5 1020.3 97.2 1020.4 C95.0 1020.5 92.2 1020.6 90.5 1020.4 C88.7 1020.2 87.5 1019.7 86.5 1018.9 C85.5 1018.1 84.9 1016.7 84.3 1015.5 C83.6 1014.4 82.8 1012.7 82.6 1012.2"/>
<path d="M98.4 894.4 C96.7 894.8 91.8 895.7 88.2 897.0 C84.6 898.3 80.9 900.0 76.9 902.1 C73.0 904.2 68.6 906.8 64.5 909.4 C60.4 912.1 55.9 915.3 52.1 917.9 C48.3 920.5 44.2 923.4 41.9 925.2 C39.7 927.0 39.5 927.2 38.5 928.6 C37.6 930.0 36.9 931.7 36.3 933.7 C35.7 935.7 35.1 937.8 34.9 940.5 C34.7 943.1 34.8 946.5 35.2 949.5 C35.5 952.5 36.1 955.5 36.9 958.5 C37.6 961.5 39.7 967.9 39.7 967.6 C39.7 967.2 36.8 956.4 36.9 956.3 C36.9 956.2 38.8 964.3 40.2 967.0 C41.6 969.7 43.6 971.1 45.3 972.7 C47.0 974.2 48.7 975.7 50.4 976.0 C52.1 976.4 53.7 974.8 55.5 974.6 C57.3 974.3 59.4 974.1 61.1 974.6 C62.8 975.0 63.9 975.6 65.6 977.2 C67.3 978.7 69.6 981.6 71.3 983.9 C73.0 986.3 74.3 988.7 75.8 991.3 C77.3 993.8 78.8 996.6 80.3 999.2 C81.8 1001.7 83.7 1004.6 84.8 1006.5 C85.9 1008.4 86.5 1008.8 86.9 1010.5 C87.2 1012.2 86.9 1015.6 86.9 1016.7"/>
<path d="M161.4 988.5 C160.3 988.2 157.1 987.1 154.7 986.8 C152.2 986.4 149.0 986.2 146.8 986.5 C144.5 986.9 143.4 987.9 141.1 989.0 C138.9 990.2 135.9 992.0 133.2 993.5 C130.6 995.0 127.4 996.5 125.3 998.0 C123.2 999.6 121.8 1001.0 120.8 1002.6 C119.8 1004.2 119.7 1006.1 119.1 1007.6 C118.5 1009.1 118.1 1010.6 117.4 1011.6 C116.8 1012.6 115.5 1013.5 115.2 1013.8"/>
<path d="M83.6 910.5 C83.9 910.5 84.6 910.6 85.1 910.7 C85.6 910.8 86.1 911.0 86.5 911.2 C87.0 911.4 87.5 911.6 88.0 911.8 C88.4 912.1 88.9 912.4 89.3 912.7 C89.8 913.0 90.2 913.3 90.6 913.7 C91.0 914.0 91.4 914.4 91.8 914.9 C92.2 915.3 92.6 915.7 93.0 916.2 C93.3 916.7 93.7 917.2 94.0 917.7 C94.3 918.3 94.7 918.8 94.9 919.4 C95.2 919.9 95.5 920.5 95.8 921.2 C96.0 921.8 96.3 922.4 96.5 923.1 C96.7 923.7 96.9 924.4 97.1 925.1 C97.3 925.7 97.5 926.4 97.6 927.1 C97.7 927.9 97.8 928.6 97.9 929.3 C98.0 930.0 98.1 930.8 98.2 931.5 C98.2 932.3 98.2 933.0 98.3 933.8 C98.3 934.5 98.3 935.3 98.2 936.0 C98.2 936.8 98.1 937.6 98.0 938.3 C98.0 939.1 97.9 939.8 97.7 940.6 C97.6 941.3 97.5 942.1 97.3 942.8 C97.1 943.5 97.0 944.3 96.7 945.0 C96.5 945.7 96.3 946.4 96.1 947.1 C95.8 947.8 95.6 948.5 95.3 949.2 C95.0 949.8 94.7 950.5 94.4 951.1 C94.1 951.7 93.7 952.3 93.4 952.9 C93.0 953.5 92.6 954.1 92.3 954.6 C91.9 955.2 91.5 955.7 91.1 956.2 C90.7 956.7 90.2 957.2 89.8 957.6 C89.4 958.1 88.9 958.5 88.5 958.9 C88.0 959.3 87.6 959.6 87.1 960.0 C86.6 960.3 86.1 960.6 85.6 960.9 C85.2 961.1 84.7 961.4 84.2 961.6 C83.7 961.8 83.2 962.0 82.7 962.1 C82.2 962.3 81.7 962.4 81.2 962.5 C80.7 962.6 80.1 962.6 79.6 962.6 C79.1 962.6 78.6 962.6 78.1 962.6 C77.6 962.5 77.1 962.4 76.6 962.3 C76.2 962.2 75.7 962.0 75.2 961.8 C74.7 961.7 74.2 961.4 73.8 961.2 C73.3 961.0 72.9 960.7 72.4 960.4 C72.0 960.1 71.5 959.7 71.1 959.4 C70.7 959.0 70.3 958.6 69.9 958.2 C69.5 957.7 69.1 957.3 68.8 956.8 C68.4 956.3 68.1 955.8 67.7 955.3 C67.4 954.8 67.1 954.2 66.8 953.7 C66.5 953.1 66.2 952.5 66.0 951.9 C65.7 951.3 65.5 950.6 65.2 950.0 C65.0 949.3 64.8 948.7 64.6 948.0 C64.4 947.3 64.3 946.6 64.1 945.9 C64.0 945.2 63.9 944.5 63.8 943.7 C63.7 943.0 63.6 942.3 63.6 941.5 C63.5 940.8 63.5 940.0 63.5 939.3 C63.5 938.5 63.5 937.7 63.5 937.0 C63.6 936.2 63.6 935.5 63.7 934.7 C63.8 934.0 63.9 933.2 64.0 932.4 C64.1 931.7 64.3 930.9 64.4 930.2 C64.6 929.5 64.8 928.7 65.0 928.0 C65.2 927.3 65.4 926.6 65.7 925.9 C65.9 925.2 66.2 924.5 66.5 923.9 C66.7 923.2 67.0 922.6 67.4 921.9 C67.7 921.3 68.0 920.7 68.4 920.1 C68.7 919.5 69.1 918.9 69.5 918.4 C69.9 917.8 70.3 917.3 70.7 916.8 C71.1 916.3 71.5 915.8 71.9 915.4 C72.4 915.0 72.8 914.5 73.3 914.1 C73.7 913.8 74.2 913.4 74.7 913.1 C75.1 912.7 75.6 912.4 76.1 912.1 C76.6 911.9 77.1 911.6 77.6 911.4 C78.1 911.2 78.6 911.0 79.1 910.9 C79.6 910.7 80.1 910.6 80.6 910.6 C81.1 910.5 81.6 910.4 82.1 910.4 C82.6 910.4 83.4 910.5 83.6 910.5"/>
<path d="M73.2 960.0 C72.9 959.7 72.1 959.1 71.5 958.6 C71.0 958.1 70.5 957.6 70.0 957.0 C69.6 956.4 69.1 955.8 68.7 955.1 C68.3 954.5 67.9 953.8 67.5 953.0 C67.1 952.3 66.8 951.5 66.5 950.7 C66.2 949.9 65.9 949.0 65.7 948.2 C65.4 947.3 65.2 946.4 65.0 945.5 C64.9 944.6 64.7 943.7 64.6 942.7 C64.5 941.8 64.5 940.8 64.4 939.9 C64.4 938.9 64.4 937.9 64.5 937.0 C64.5 936.0 64.6 935.0 64.7 934.1 C64.8 933.1 65.0 932.1 65.2 931.2 C65.4 930.3 65.6 929.3 65.8 928.4 C66.1 927.5 66.4 926.6 66.7 925.7 C67.0 924.8 67.4 924.0 67.8 923.1 C68.2 922.3 68.6 921.5 69.0 920.7 C69.5 920.0 69.9 919.2 70.4 918.5 C70.9 917.9 71.4 917.2 72.0 916.6 C72.5 916.0 73.0 915.4 73.6 914.9 C74.2 914.4 75.1 913.7 75.4 913.5"/>
<path d="M82.6 910.6 C83.7 910.7 87.1 910.9 89.3 911.7 C91.6 912.4 94.0 913.8 96.1 915.1 C98.2 916.4 100.8 918.8 101.7 919.6"/>
<path d="M97.2 956.3 C96.3 956.9 93.8 959.2 91.6 960.2 C89.3 961.2 85.0 962.1 83.7 962.5"/>
<path d="M75.7 922.4 C75.8 922.5 76.2 922.5 76.5 922.6 C76.8 922.6 77.0 922.7 77.3 922.8 C77.6 922.9 77.9 923.0 78.1 923.1 C78.4 923.2 78.6 923.4 78.9 923.5 C79.1 923.7 79.4 923.9 79.6 924.1 C79.9 924.3 80.1 924.5 80.3 924.7 C80.5 924.9 80.8 925.2 81.0 925.4 C81.2 925.7 81.4 926.0 81.6 926.2 C81.8 926.5 82.0 926.8 82.1 927.1 C82.3 927.4 82.5 927.8 82.6 928.1 C82.8 928.4 82.9 928.8 83.1 929.1 C83.2 929.5 83.3 929.9 83.5 930.2 C83.6 930.6 83.7 931.0 83.8 931.4 C83.9 931.8 83.9 932.2 84.0 932.6 C84.1 933.0 84.1 933.4 84.2 933.8 C84.2 934.2 84.2 934.6 84.3 935.0 C84.3 935.4 84.3 935.8 84.3 936.3 C84.3 936.7 84.3 937.1 84.2 937.5 C84.2 937.9 84.2 938.4 84.1 938.8 C84.1 939.2 84.0 939.6 83.9 940.0 C83.8 940.4 83.7 940.8 83.6 941.2 C83.5 941.6 83.4 942.0 83.3 942.4 C83.2 942.8 83.1 943.2 82.9 943.5 C82.8 943.9 82.6 944.3 82.4 944.6 C82.3 945.0 82.1 945.3 81.9 945.7 C81.7 946.0 81.5 946.3 81.3 946.6 C81.1 946.9 80.9 947.2 80.7 947.5 C80.5 947.8 80.3 948.1 80.0 948.3 C79.8 948.6 79.6 948.8 79.3 949.0 C79.1 949.3 78.8 949.5 78.6 949.7 C78.3 949.9 78.1 950.0 77.8 950.2 C77.5 950.4 77.3 950.5 77.0 950.6 C76.7 950.7 76.4 950.9 76.2 950.9 C75.9 951.0 75.6 951.1 75.3 951.2 C75.1 951.2 74.8 951.2 74.5 951.3 C74.2 951.3 73.9 951.3 73.7 951.3 C73.4 951.2 73.1 951.2 72.8 951.1 C72.5 951.1 72.3 951.0 72.0 950.9 C71.7 950.8 71.5 950.7 71.2 950.6 C71.0 950.5 70.7 950.3 70.4 950.2 C70.2 950.0 69.9 949.8 69.7 949.6 C69.5 949.4 69.2 949.2 69.0 949.0 C68.8 948.8 68.6 948.5 68.3 948.3 C68.1 948.0 67.9 947.7 67.7 947.5 C67.5 947.2 67.4 946.9 67.2 946.6 C67.0 946.3 66.8 945.9 66.7 945.6 C66.5 945.3 66.4 944.9 66.2 944.6 C66.1 944.2 66.0 943.8 65.9 943.5 C65.8 943.1 65.7 942.7 65.6 942.3 C65.5 941.9 65.4 941.6 65.3 941.2 C65.3 940.8 65.2 940.3 65.2 939.9 C65.1 939.5 65.1 939.1 65.1 938.7 C65.0 938.3 65.0 937.9 65.0 937.4 C65.0 937.0 65.1 936.6 65.1 936.2 C65.1 935.8 65.2 935.3 65.2 934.9 C65.3 934.5 65.3 934.1 65.4 933.7 C65.5 933.3 65.6 932.9 65.7 932.5 C65.8 932.1 65.9 931.7 66.0 931.3 C66.1 930.9 66.3 930.5 66.4 930.2 C66.6 929.8 66.7 929.4 66.9 929.1 C67.0 928.7 67.2 928.4 67.4 928.0 C67.6 927.7 67.8 927.4 68.0 927.1 C68.2 926.8 68.4 926.5 68.6 926.2 C68.8 925.9 69.0 925.6 69.3 925.4 C69.5 925.1 69.8 924.9 70.0 924.7 C70.2 924.4 70.5 924.2 70.7 924.0 C71.0 923.8 71.3 923.7 71.5 923.5 C71.8 923.3 72.1 923.2 72.3 923.1 C72.6 923.0 72.9 922.8 73.2 922.8 C73.4 922.7 73.7 922.6 74.0 922.5 C74.3 922.5 74.6 922.5 74.8 922.4 C75.1 922.4 75.5 922.4 75.7 922.4"/>
<path d="M78.0 923.0 C78.9 923.3 81.8 923.8 83.1 924.7 C84.4 925.5 85.5 927.5 85.9 928.0"/>
<path d="M83.7 947.2 C83.2 947.7 82.2 949.4 80.9 950.1 C79.6 950.7 76.6 951.0 75.8 951.2"/>
<path d="M107.3 897.6 C108.0 898.2 110.3 899.8 111.8 901.5 C113.3 903.2 115.0 905.6 116.3 907.7 C117.6 909.9 118.7 912.4 119.7 914.5 C120.6 916.6 121.2 918.1 121.9 920.1 C122.7 922.2 123.5 924.5 124.2 926.9 C124.8 929.4 125.5 932.2 125.9 934.8 C126.3 937.5 126.6 939.9 126.7 942.7 C126.8 945.5 126.7 948.7 126.4 951.7 C126.2 954.8 125.5 959.3 125.3 960.8"/>
<path d="M112.3 902.1 L134.9 894.2"/>
<path d="M121.9 919.6 L146.2 910.9"/>
<path d="M150.1 909.4 C149.0 910.5 145.2 913.8 143.4 915.6 C141.6 917.4 140.3 918.3 139.4 920.1 C138.6 922.0 138.5 925.8 138.3 926.9"/>
<path d="M142.2 942.7 C142.6 943.8 143.6 947.5 144.5 949.5 C145.4 951.5 146.2 953.2 147.9 954.6 C149.6 956.0 152.0 957.0 154.7 958.0 C157.3 958.9 160.5 959.7 163.7 960.2 C166.9 960.7 172.2 960.7 173.8 960.8"/>
<path d="M119.1 956.3 C119.6 957.1 121.0 960.1 121.9 961.3 C122.9 962.6 124.3 963.2 124.8 963.6"/>
<path d="M124.8 963.6 L171.0 965.9"/>
<path d="M111.2 963.6 C111.7 964.4 113.0 967.3 114.0 968.7 C115.1 970.1 116.9 971.5 117.4 972.1"/>
<path d="M116.9 972.1 L167.1 975.7"/>
<path d="M98.9 980.9 L116.9 972.1"/>
<path d="M82.6 974.3 C83.5 977.5 85.9 987.1 88.2 993.5 C90.6 999.9 95.3 1009.5 96.7 1012.7"/>
<path d="M93.3 972.1 C93.8 973.7 94.3 977.4 96.1 981.7 C97.9 986.0 101.6 993.2 104.0 998.0 C106.5 1002.9 109.7 1008.6 110.8 1010.7"/>
<path d="M79.2 985.9 L83.1 985.1"/>
<path d="M115.3 1013.8 C115.9 1012.9 117.7 1010.1 118.7 1008.2 C119.6 1006.3 119.9 1004.0 120.9 1002.6 C122.0 1001.2 124.3 1000.2 125.0 999.7"/>
<path d="M105.0 1000.3 L110.6 1011.0"/>
<path d="M498.1 827.8 L506.9 827.1 L509.6 825.4 L517.8 825.4 L520.5 830.3 L511.7 830.5 L509.0 832.6 L500.2 832.6Z"/>
<path d="M506.9 827.1 L507.6 829.2 L511.7 830.5"/>
<path d="M564.8 787.2 L567.9 785.2 L573.3 785.2 L603.1 815.0 L603.5 817.7 L599.7 819.4 L596.3 818.6Z"/>
<path d="M572.0 528.5 L449.5 598.0" stroke-dasharray="27 2 1.7 2" stroke-dashoffset="2.1"/>
<path d="M449.5 598.0 L449.5 776.5" stroke-dasharray="12 1 3 1" stroke-dashoffset="3"/>
<path d="M449.5 776.5 L275.0 877.0" stroke-dasharray="27.3 2.2 2 2.3" stroke-dashoffset="12.2"/>
<ellipse cx="234.8" cy="881.7" rx="1.9" ry="2.5" stroke-width="1.3" shape-rendering="auto"/>
<ellipse cx="308.1" cy="839.4" rx="1.9" ry="2.5" stroke-width="1.3" shape-rendering="auto"/>
<ellipse cx="258.7" cy="918.1" rx="1.9" ry="2.5" stroke-width="1.3" shape-rendering="auto"/>
<ellipse cx="323.1" cy="881.4" rx="1.9" ry="2.5" stroke-width="1.3" shape-rendering="auto"/>
<ellipse cx="308.5" cy="839.4" rx="1.9" ry="2.5" stroke-width="1.3" shape-rendering="auto"/>
<path d="M276.9 873.3 C276.8 872.9 277.2 871.3 276.5 870.8 C275.8 870.3 273.9 869.8 272.8 870.1 C271.7 870.4 270.5 871.5 269.9 872.7 C269.2 873.9 268.9 875.7 269.0 877.2 C269.0 878.7 269.5 880.7 270.3 881.7 C271.1 882.8 272.5 883.4 273.7 883.6 C274.9 883.7 276.6 883.4 277.3 882.9 C278.0 882.4 277.9 880.8 278.0 880.4" stroke-width="1.6"/>
<ellipse cx="264.1" cy="882.5" rx="1.4" ry="2.1" stroke-width="1.2" shape-rendering="auto"/>
<circle cx="401" cy="786" r="4" stroke-width="1.4" shape-rendering="auto"/>
<circle cx="402" cy="785" r="1.7" fill="#000" stroke="none" shape-rendering="auto"/>
<circle cx="396.6" cy="788.7" r="1.6" stroke-width="1.3" shape-rendering="auto"/>
<ellipse cx="392.2" cy="790.9" rx="2.7" ry="1.8" transform="rotate(-28 392.2 790.9)" shape-rendering="auto" stroke-width="1.4"/>
<g transform="translate(100.1 900.7)"><path d="M-5 -4.5 L1.5 -4.5 L6 -3 L5.5 0.5 L1.5 3 L-1 6 L-2.5 3.5 L-6.5 2.5 M-5.5 -1.5 L4.5 -4.5 M-6 1.2 L5.5 -2 M-3.5 3.4 L5 0.6"/></g>
<g transform="translate(50.4 929.4)"><path d="M-5 -4.5 L1.5 -4.5 L6 -3 L5.5 0.5 L1.5 3 L-1 6 L-2.5 3.5 L-6.5 2.5 M-5.5 -1.5 L4.5 -4.5 M-6 1.2 L5.5 -2 M-3.5 3.4 L5 0.6"/></g>
<g transform="translate(115.3 948.6)"><path d="M-5 -4.5 L1.5 -4.5 L6 -3 L5.5 0.5 L1.5 3 L-1 6 L-2.5 3.5 L-6.5 2.5 M-5.5 -1.5 L4.5 -4.5 M-6 1.2 L5.5 -2 M-3.5 3.4 L5 0.6"/></g>
<g transform="translate(75.8 971.5)"><path d="M-5 -4.5 L1.5 -4.5 L6 -3 L5.5 0.5 L1.5 3 L-1 6 L-2.5 3.5 L-6.5 2.5 M-5.5 -1.5 L4.5 -4.5 M-6 1.2 L5.5 -2 M-3.5 3.4 L5 0.6"/></g>
<path d="M124.8 977.2 C124.1 977.3 122.1 977.3 120.8 978.0 C119.5 978.6 117.7 979.9 117.2 981.1 C116.7 982.3 117.3 984.2 118.0 985.1 C118.7 986.0 120.8 986.3 121.4 986.5" stroke-width="1.5"/>
<path d="M126.2 980.2 L127.3 982.8" stroke-width="1.5"/>
<ellipse cx="571.0" cy="788.3" rx="1.6" ry="1.2" shape-rendering="auto" stroke-width="1.1"/>
<ellipse cx="584.8" cy="802.4" rx="1.6" ry="1.2" shape-rendering="auto" stroke-width="1.1"/>
<ellipse cx="598.4" cy="814.3" rx="1.6" ry="1.2" shape-rendering="auto" stroke-width="1.1"/>
</svg>
<div class="t" style="left:648px;top:186.5px;font-size:26px;">W/O AIR BAG</div>
<div class="t" style="left:569px;top:449px;font-size:22px;">1346TD</div>
<div class="t" style="left:542px;top:579px;font-size:22px;">1360GK</div>
<div class="t" style="left:516px;top:639.5px;font-size:22px;letter-spacing:-0.3px;">56900</div>
<div class="t" style="left:531px;top:728px;font-size:22px;letter-spacing:-0.15px;">56950A</div>
<div class="t" style="left:219px;top:681px;font-size:22px;letter-spacing:-0.4px;">56120</div>
<div class="t" style="left:60px;top:766px;font-size:22px;letter-spacing:-0.3px;">56130C</div>
<div class="t" style="left:358px;top:737px;font-size:22px;letter-spacing:-0.15px;">1249LD</div>
</body></html>
